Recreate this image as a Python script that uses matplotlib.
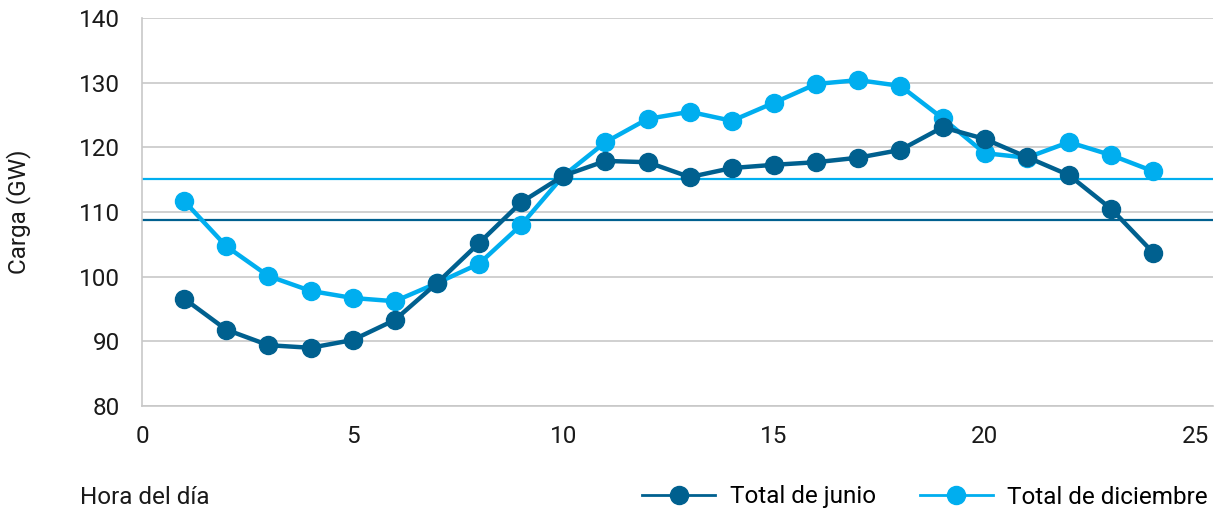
import matplotlib
matplotlib.use("Agg")
import matplotlib.pyplot as plt
from matplotlib.lines import Line2D

hours = list(range(1, 25))
junio = [96.6, 91.8, 89.4, 89.0, 90.2, 93.3, 99.0, 105.2, 111.5, 115.6, 117.9, 117.7,
         115.4, 116.8, 117.3, 117.7, 118.4, 119.6, 123.1, 121.3, 118.5, 115.7, 110.5, 103.7]
diciembre = [111.7, 104.7, 100.1, 97.8, 96.7, 96.2, 99.0, 102.0, 108.0, 115.6, 120.8, 124.4,
             125.5, 124.1, 126.9, 129.8, 130.4, 129.5, 124.5, 119.1, 118.4, 120.8, 118.8, 116.3]
avg_junio = 108.8
avg_diciembre = 115.1
series_labels = ["Total de junio", "Total de diciembre"]
x_ticks = [0, 5, 10, 15, 20, 25]
y_ticks = [80, 90, 100, 110, 120, 130, 140]

c_dark = "#00608F"
c_light = "#00AEEF"
fs = 17.5

plt.rcParams['font.family'] = ['Roboto', 'DejaVu Sans']

fig = plt.figure(figsize=(12.2, 5.15), dpi=100)
ax = fig.add_axes([0.1164, 0.2117, 0.8779, 0.7533])

ax.set_xlim(0, 25.42)
ax.set_ylim(80, 140)
ax.set_xticks(x_ticks)
ax.set_yticks(y_ticks)
ax.grid(axis='y', color='#C8C8C8', linewidth=1.2, zorder=0)
for s in ['top', 'right']:
    ax.spines[s].set_visible(False)
for s in ['left', 'bottom']:
    ax.spines[s].set_color('#C8C8C8')
    ax.spines[s].set_linewidth(1.2)
ax.tick_params(axis='both', length=0, labelsize=fs, colors='#1a1a1a')
ax.tick_params(axis='y', pad=16)
ax.tick_params(axis='x', pad=14)

ax.axhline(avg_junio, color=c_dark, linewidth=1.6, zorder=2)
ax.axhline(avg_diciembre, color=c_light, linewidth=1.6, zorder=2)

ax.plot(hours, diciembre, color=c_light, linewidth=3.2, marker='o', markersize=13, zorder=3)
ax.plot(hours, junio, color=c_dark, linewidth=3.2, marker='o', markersize=13, zorder=4)

ax.set_ylabel("Carga (GW)", fontsize=fs, color='#1a1a1a')
ax.yaxis.set_label_coords(-(142 - 31) / (0.8779 * 1220), 0.5)
fig.text(80/1220, 1 - 497/515, "Hora del día", fontsize=fs, color='#1a1a1a', va='center', ha='left')

handles = [Line2D([0], [0], color=c_dark, linewidth=2, marker='o', markersize=13),
           Line2D([0], [0], color=c_light, linewidth=2, marker='o', markersize=13)]
fig.legend(handles, series_labels, loc='center right', bbox_to_anchor=(1.0, 1 - 497/515),
           ncol=2, frameon=False, fontsize=fs, handlelength=3.0, columnspacing=1.8,
           handletextpad=0.6, borderaxespad=0.1)

fig.savefig("out.png", dpi=100)
